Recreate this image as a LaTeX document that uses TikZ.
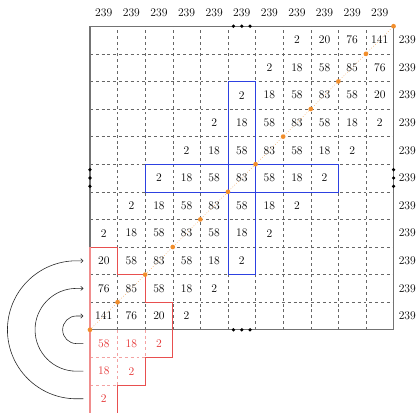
\documentclass[tikz,border=0pt]{standalone}
\usetikzlibrary{arrows.meta}
\definecolor{myorange}{RGB}{242,142,43}
\definecolor{myred}{RGB}{228,48,48}
\definecolor{myblue}{RGB}{45,65,225}
\begin{document}
\begin{tikzpicture}[
  num/.style={font=\large, inner sep=0pt},
  rnum/.style={num, text=myred},
  gridline/.style={dashed, draw=black!60, line width=0.4pt},
  redgrid/.style={dashed, draw=myred!45, line width=0.4pt},
  border/.style={draw=black!55, line width=1.1pt},
  stair/.style={draw=myred!85, line width=0.6pt},
  redleft/.style={draw=myred!55, line width=1.1pt},
  bluebox/.style={draw=myblue, line width=0.6pt},
  diag/.style={draw=myorange!75, dotted, line width=0.7pt},
  odot/.style={fill=myorange},
  bdot/.style={fill=black},
  arr/.style={-{To[length=3pt,width=5pt]}, line width=0.6pt, draw=black!85}
]
\clip (-3.26,-2.98) rectangle (11.85,11.95);
% dashed grid
\foreach \i in {1,...,10} {
  \draw[gridline] (\i,0) -- (\i,11);
  \draw[gridline] (0,\i) -- (11,\i);
}
% red extension dashed lines
\draw[redgrid] (0,-1) -- (2,-1);
\draw[redgrid] (0,-2) -- (1,-2);
\draw[redgrid] (1,0) -- (1,-2);
\draw[redgrid] (2,0) -- (2,-1);
% outer border
\draw[border] (0,0) rectangle (11,11);
% red staircase
\draw[stair] (0,3) -- (1,3) -- (1,2) -- (2,2) -- (2,1) -- (3,1) -- (3,-1) -- (2,-1) -- (2,-2) -- (1,-2) -- (1,-3.2);
\draw[redleft] (0,3) -- (0,-3.2);
% blue cross
\draw[bluebox] (5,2) rectangle (6,9);
\draw[bluebox] (2,5) rectangle (9,6);
% orange diagonal
\draw[diag] (0,0) -- (11,11);
\foreach \k in {0,...,11} \fill[odot] (\k,\k) circle (0.085);
% black dots
\foreach \d in {-0.3,0,0.3} {
  \fill[bdot] (5.5+\d,11) circle (0.065);
  \fill[bdot] (5.5+\d,0) circle (0.065);
  \fill[bdot] (0,5.5+\d) circle (0.065);
  \fill[bdot] (11,5.5+\d) circle (0.065);
}
% top and right labels
\foreach \c in {0,...,10} \node[num] (t\c) at (\c+0.5,11.47) {239};
\foreach \r in {0,...,10} \node[num] (s\r) at (11.5,10.5-\r) {239};
% matrix entries
\foreach \r/\c/\v in {
  0/7/2, 0/8/20, 0/9/76, 0/10/141,
  1/6/2, 1/7/18, 1/8/58, 1/9/85, 1/10/76,
  2/5/2, 2/6/18, 2/7/58, 2/8/83, 2/9/58, 2/10/20,
  3/4/2, 3/5/18, 3/6/58, 3/7/83, 3/8/58, 3/9/18, 3/10/2,
  4/3/2, 4/4/18, 4/5/58, 4/6/83, 4/7/58, 4/8/18, 4/9/2,
  5/2/2, 5/3/18, 5/4/58, 5/5/83, 5/6/58, 5/7/18, 5/8/2,
  6/1/2, 6/2/18, 6/3/58, 6/4/83, 6/5/58, 6/6/18, 6/7/2,
  7/0/2, 7/1/18, 7/2/58, 7/3/83, 7/4/58, 7/5/18, 7/6/2,
  8/0/20, 8/1/58, 8/2/83, 8/3/58, 8/4/18, 8/5/2,
  9/0/76, 9/1/85, 9/2/58, 9/3/18, 9/4/2,
  10/0/141, 10/1/76, 10/2/20, 10/3/2}
  \node[num] (m\r-\c) at (\c+0.5,10.5-\r) {\v};
% red entries
\foreach \r/\c/\v in {11/0/58, 11/1/18, 11/2/2, 12/0/18, 12/1/2, 13/0/2}
  \node[rnum] (m\r-\c) at (\c+0.5,10.5-\r) {\v};
% arrows
\coordinate (a1) at (-0.24,-0.5); \coordinate (b1) at (-0.24,0.5);
\coordinate (a2) at (-0.24,-1.5); \coordinate (b2) at (-0.24,1.5);
\coordinate (a3) at (-0.24,-2.5); \coordinate (b3) at (-0.24,2.5);
\draw[arr] (a1) -- ++(-0.25,0) arc[start angle=-90,end angle=-270,radius=0.5] -- (b1);
\draw[arr] (a2) -- ++(-0.25,0) arc[start angle=-90,end angle=-270,radius=1.5] -- (b2);
\draw[arr] (a3) -- ++(-0.25,0) arc[start angle=-90,end angle=-270,radius=2.5] -- (b3);
\end{tikzpicture}
\end{document}
